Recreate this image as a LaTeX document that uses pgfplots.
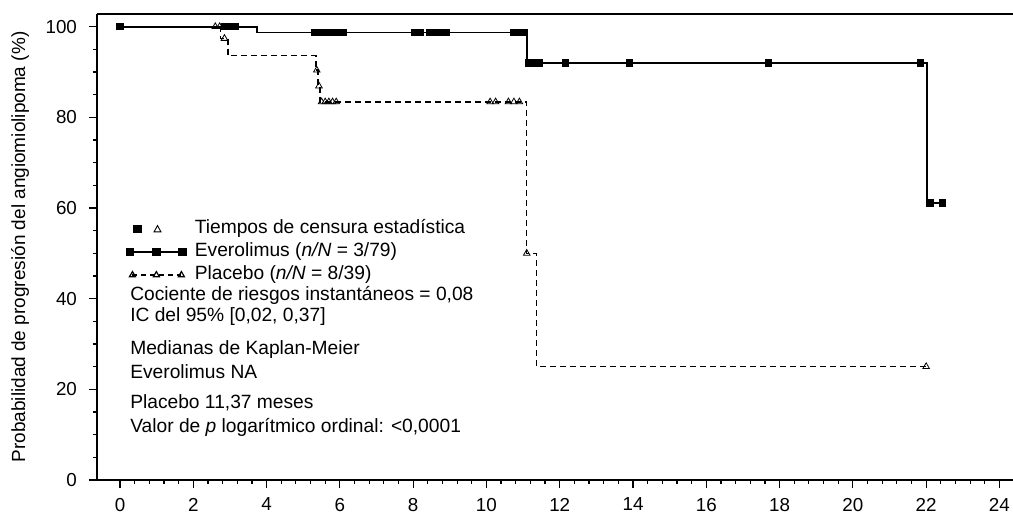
\documentclass[border=0pt]{standalone}
\usepackage{fontspec}
\setmainfont{Liberation Sans}
\usepackage{pgfplots}
\pgfplotsset{compat=1.18}

% px -> axis: x = (px-120)/36.65 ; y = (480-py)/4.535
\begin{document}
\begin{tikzpicture}
\begin{axis}[
    scale only axis,
    width=458pt, height=233pt,
    xmin=-0.628, xmax=24.37,
    ymin=0, ymax=102.8,
    axis x line*=bottom,
    axis y line*=left,
    axis line style={line width=1.2pt},
    xtick={0,2,...,24},
    ytick={0,20,...,100},
    minor x tick num=4,
    minor y tick num=3,
    tick align=outside,
    tick style={black, line width=0.6pt},
    major tick length=4pt,
    minor tick length=2pt,
    /pgf/number format/assume math mode=true,
    ticklabel style={font=\fontsize{9.4}{11}\selectfont},
    yticklabel style={xshift=-2.5pt},
    xticklabel style={yshift=-1.5pt},
    ylabel={Probabilidad de progresión del angiomiolipoma (\%)},
    ylabel style={at={(axis description cs:-0.084,0.5)}, anchor=center,
                  font=\fontsize{9.5}{11}\selectfont},
    clip=false,
    legend style={at={(axis cs:0.16,57.8)}, anchor=north west, draw=none, fill=none,
                  font=\fontsize{9.6}{11}\selectfont, row sep=0.5pt,
                  inner sep=0pt, outer sep=0pt,
                  nodes={inner sep=1pt, text height=7pt, text depth=2pt},
                  /tikz/every odd column/.append style={column sep=3pt}},
    legend cell align=left,
]
\draw[line width=1.2pt] (rel axis cs:0,1) -- (rel axis cs:1,1);
\coordinate (bbl) at (rel axis cs:-0.1059,-0.0708);
\coordinate (btr) at (rel axis cs:1,1.030);

% legend entries
\addlegendimage{legend image code/.code={
    \fill[black] (0.12cm,-0.06cm) rectangle (0.25cm,0.06cm);
    \draw[black, line width=0.45pt] (0.48cm,-0.05cm) -- (0.6cm,-0.05cm) -- (0.54cm,0.06cm) -- cycle;
    \path (1.04cm,0cm);
}}
\addlegendentry{Tiempos de censura estadística}
\addlegendimage{legend image code/.code={
    \draw[black, line width=0.9pt, mark=square*, mark size=1.7pt]
        plot coordinates {(0.06cm,0cm) (0.52cm,0cm) (0.98cm,0cm)};
    \draw[black, line width=0.9pt] (0cm,0cm) -- (1.04cm,0cm);}}
\addlegendentry{Everolimus (\textit{n/N} = 3/79)}
\addlegendimage{legend image code/.code={
    \draw[black, line width=0.6pt, dash pattern=on 2.5pt off 2pt, mark=triangle, mark size=1.7pt,
          mark options={solid}]
        plot coordinates {(0.1cm,0cm) (0.52cm,0cm) (0.96cm,0cm)};}}
\addlegendentry{Placebo (\textit{n/N} = 8/39)}

% Everolimus KM curve
\addplot[const plot, line width=0.9pt, black, forget plot] coordinates {
    (0,100) (3.74,98.7) (11.1,92.0) (22.02,61.1) (22.45,61.1)};
% Placebo KM curve
\addplot[const plot, line width=0.7pt, black, dash pattern=on 3pt off 2pt, forget plot] coordinates {
    (0,100) (2.75,97.4) (2.95,93.7) (5.35,90.4) (5.40,86.9) (5.46,83.4)
    (11.1,50.0) (11.37,25.0) (22.0,25.0)};

% Everolimus censoring
\addplot[only marks, mark=square*, mark size=1.6pt, black, forget plot] coordinates {
    (0,100) (2.85,100) (3.0,100) (3.15,100)
    (5.3,98.7) (5.42,98.7) (5.54,98.7) (5.66,98.7) (5.78,98.7) (5.9,98.7) (6.02,98.7) (6.1,98.7)
    (8.05,98.7) (8.2,98.7) (8.45,98.7) (8.6,98.7) (8.75,98.7) (8.9,98.7)
    (10.75,98.7) (10.9,98.7) (11.02,98.7)
    (11.15,92.0) (11.3,92.0) (11.45,92.0) (12.15,92.0) (13.9,92.0) (17.7,92.0) (21.85,92.0)
    (22.1,61.1) (22.45,61.1)};
% Placebo censoring
\addplot[only marks, mark=triangle, mark size=1.9pt, black, forget plot] coordinates {
    (2.6,100) (2.72,100) (2.85,97.4)
    (5.37,90.4) (5.43,86.9)
    (5.5,83.4) (5.6,83.4) (5.7,83.4) (5.8,83.4) (5.9,83.4)
    (10.1,83.4) (10.25,83.4) (10.6,83.4) (10.75,83.4) (10.9,83.4)
    (11.1,50.0) (22.0,25.0)};

% annotation text
\begin{scope}[every node/.style={anchor=west, inner sep=0pt, text height=7pt, text depth=2pt,
                                 font=\fontsize{9.6}{11}\selectfont}]
\node at (axis cs:0.27,40.6) {Cociente de riesgos instantáneos = 0,08};
\node at (axis cs:0.27,36.1) {IC del 95\% [0,02, 0,37]};
\node at (axis cs:0.27,28.7) {Medianas de Kaplan-Meier};
\node at (axis cs:0.27,23.5) {Everolimus NA};
\node at (axis cs:0.27,16.8) {Placebo 11,37 meses};
\node at (axis cs:0.27,11.6) {Valor de \textit{p} logarítmico ordinal: <0,0001};
\end{scope}
\end{axis}
\pgfresetboundingbox
\path[use as bounding box] (bbl) rectangle (btr);
\end{tikzpicture}
\end{document}
